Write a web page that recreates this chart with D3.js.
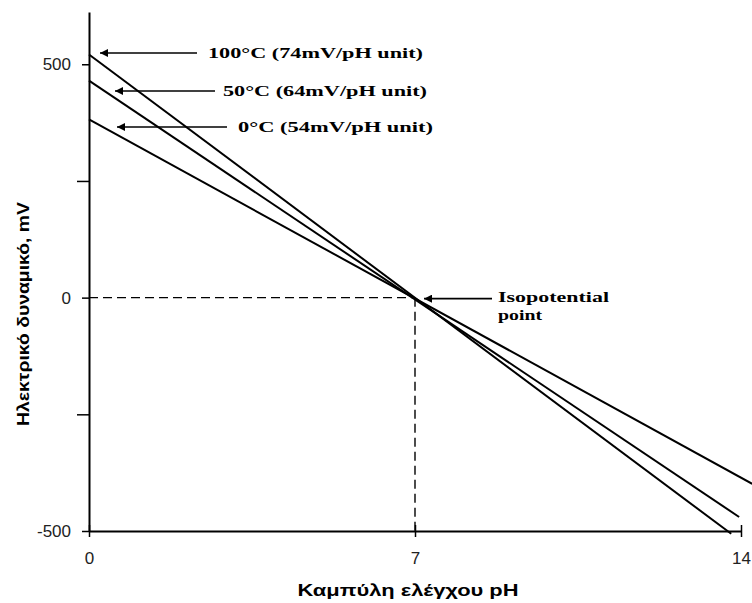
<!DOCTYPE html>
<html>
<head>
<meta charset="utf-8">
<script src="https://cdn.jsdelivr.net/npm/d3@7"></script>
<style>
  html, body { margin: 0; padding: 0; background: #fff; }
  svg { display: block; }
</style>
</head>
<body>
<svg id="chart" width="752" height="603"></svg>
<script>
// pH calibration lines at three temperatures: start and end points (pH, mV)
const seriesNames = ["100°C", "50°C", "0°C"];
const phStart = [0, 0, 0];
const phEnd = [13.79, 13.96, 14.24];
const mvStart = [521, 465, 382];
const mvEnd = [-506, -470, -399];

// Annotation texts for each line
const lineLabels = ["100°C (74mV/pH unit)", "50°C (64mV/pH unit)", "0°C (54mV/pH unit)"];
const isoLabel = ["Isopotential", "point"];
const isoPoint = [7, 0];

// Axis ticks
const xTicks = [0, 7, 14];
const yTicks = [-500, -250, 0, 250, 500];
const yTickLabels = ["-500", "", "0", "", "500"];

const xTitle = "Καμπύλη ελέγχου pH";
const yTitle = "Ηλεκτρικό δυναμικό, mV";

const svg = d3.select("#chart");

const x = d3.scaleLinear().domain([0, 14]).range([89, 741]);
const y = d3.scaleLinear().domain([-500, 612]).range([531, 12]);

// Dashed guides to the isopotential point
svg.append("line")
  .attr("x1", x(0)).attr("x2", x(isoPoint[0]))
  .attr("y1", y(isoPoint[1])).attr("y2", y(isoPoint[1]))
  .attr("stroke", "#000").attr("stroke-width", 1.4)
  .attr("stroke-dasharray", "9,5");
svg.append("line")
  .attr("x1", x(isoPoint[0])).attr("x2", x(isoPoint[0]))
  .attr("y1", y(isoPoint[1])).attr("y2", y(-500))
  .attr("stroke", "#000").attr("stroke-width", 1.4)
  .attr("stroke-dasharray", "9,5");

// X axis
const xAxis = svg.append("g")
  .attr("transform", `translate(0,${y(-500)})`)
  .call(d3.axisBottom(x).tickValues(xTicks).tickSize(6).tickPadding(15).tickSizeOuter(0));
xAxis.select(".domain").attr("stroke", "#000").attr("stroke-width", 2);
xAxis.selectAll(".tick line").attr("y1", -6).attr("y2", 6).attr("stroke-width", 1.5);
xAxis.selectAll(".tick text")
  .attr("font-family", "Liberation Sans, Arial, sans-serif")
  .attr("font-size", 17).attr("fill", "#222");

// Y axis (extends above the top tick)
const yAxis = svg.append("g")
  .attr("transform", `translate(${x(0)},0)`)
  .call(d3.axisLeft(y).tickValues(yTicks)
    .tickFormat((d, i) => yTickLabels[i])
    .tickSize(7).tickPadding(11).tickSizeOuter(0));
yAxis.select(".domain").attr("stroke", "#000").attr("stroke-width", 2);
yAxis.selectAll(".tick line")
  .attr("stroke-width", 1.5)
  .attr("x2", (d, i) => yTickLabels[i] === "" ? -12 : -7);
yAxis.selectAll(".tick text")
  .attr("font-family", "Liberation Sans, Arial, sans-serif")
  .attr("font-size", 17).attr("fill", "#222");

// Calibration lines
const line = d3.line().x(d => x(d[0])).y(d => y(d[1]));
svg.append("g").selectAll("path")
  .data(seriesNames.map((n, i) => [[phStart[i], mvStart[i]], [phEnd[i], mvEnd[i]]]))
  .join("path")
  .attr("d", line)
  .attr("fill", "none")
  .attr("stroke", "#000")
  .attr("stroke-width", 2);

// Arrow marker
svg.append("defs").append("marker")
  .attr("id", "arrow")
  .attr("viewBox", "0 0 10 10")
  .attr("refX", 10).attr("refY", 5)
  .attr("markerWidth", 10).attr("markerHeight", 8)
  .attr("markerUnits", "userSpaceOnUse")
  .attr("orient", "auto")
  .append("path").attr("d", "M0,0L10,5L0,10Z").attr("fill", "#000");

// Line annotations: arrows pointing at each line's start
const annX1 = [197, 215, 227];
const annX2 = [100, 115, 117];
const annY = [53, 91, 127];
const annTextX = [208, 223, 238];
const annTextW = [215, 204, 195];

const ann = svg.append("g");
lineLabels.forEach((t, i) => {
  ann.append("line")
    .attr("x1", annX1[i]).attr("x2", annX2[i])
    .attr("y1", annY[i]).attr("y2", annY[i])
    .attr("stroke", "#000").attr("stroke-width", 1.6)
    .attr("marker-end", "url(#arrow)");
  ann.append("text")
    .attr("x", annTextX[i]).attr("y", annY[i] + 5)
    .attr("font-family", "Liberation Serif, Times New Roman, serif")
    .attr("font-weight", "bold").attr("font-size", 15)
    .attr("textLength", annTextW[i]).attr("lengthAdjust", "spacingAndGlyphs")
    .text(t);
});

// Isopotential point annotation
ann.append("line")
  .attr("x1", 492).attr("x2", x(isoPoint[0]) + 9)
  .attr("y1", y(isoPoint[1]) + 1).attr("y2", y(isoPoint[1]) + 1)
  .attr("stroke", "#000").attr("stroke-width", 1.6)
  .attr("marker-end", "url(#arrow)");
ann.append("text")
  .attr("x", 498).attr("y", 302)
  .attr("font-family", "Liberation Serif, Times New Roman, serif")
  .attr("font-weight", "bold").attr("font-size", 15)
  .attr("textLength", 111).attr("lengthAdjust", "spacingAndGlyphs")
  .text(isoLabel[0]);
ann.append("text")
  .attr("x", 498).attr("y", 320)
  .attr("font-family", "Liberation Serif, Times New Roman, serif")
  .attr("font-weight", "bold").attr("font-size", 15)
  .attr("textLength", 44).attr("lengthAdjust", "spacingAndGlyphs")
  .text(isoLabel[1]);

// Axis titles
svg.append("text")
  .attr("x", 408).attr("y", 596)
  .attr("text-anchor", "middle")
  .attr("font-family", "Liberation Sans Narrow, Arial Narrow, Liberation Sans, sans-serif")
  .attr("font-weight", "bold").attr("font-size", 16)
  .attr("textLength", 221).attr("lengthAdjust", "spacingAndGlyphs")
  .text(xTitle);
svg.append("text")
  .attr("transform", "translate(29,314) rotate(-90)")
  .attr("text-anchor", "middle")
  .attr("font-family", "Liberation Sans Narrow, Arial Narrow, Liberation Sans, sans-serif")
  .attr("font-weight", "bold").attr("font-size", 16)
  .attr("textLength", 224).attr("lengthAdjust", "spacingAndGlyphs")
  .text(yTitle);
</script>
</body>
</html>
